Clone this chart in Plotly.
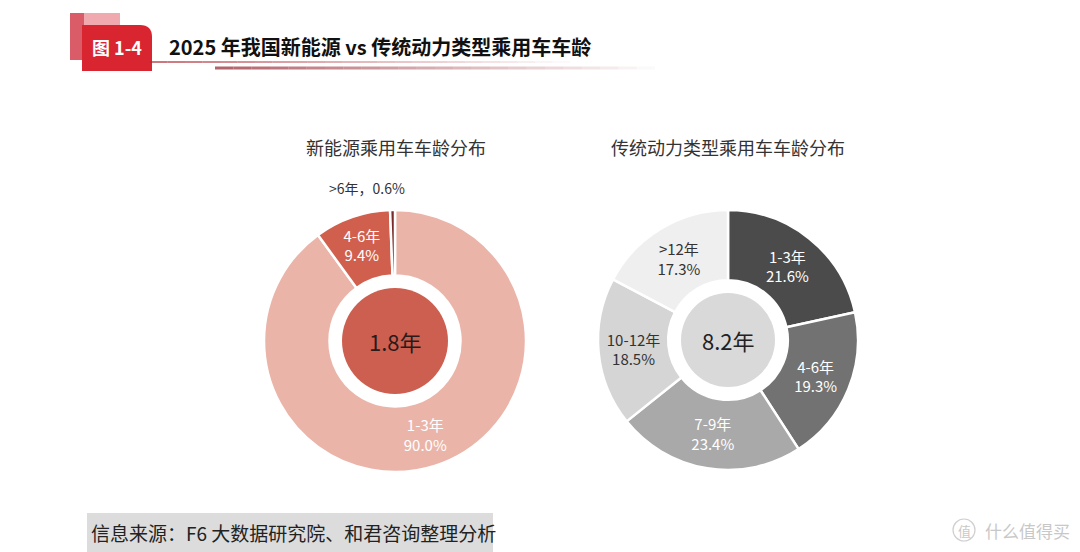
import plotly.graph_objects as go

W, H = 1080, 552
FONT = "Noto Sans CJK SC"

# ---------------- data ----------------
nev_labels = ["1-3年", "4-6年", ">6年"]
nev_values = [90.0, 9.4, 0.6]
ice_labels = ["1-3年", "4-6年", "7-9年", "10-12年", ">12年"]
ice_values = [21.6, 19.3, 23.4, 18.5, 17.3]
avg_age = [1.8, 8.2]
chart_titles = ["新能源乘用车车龄分布", "传统动力类型乘用车车龄分布"]
main_title = "2025 年我国新能源 vs 传统动力类型乘用车车龄"
fig_no = "图 1-4"
source = "信息来源：F6 大数据研究院、和君咨询整理分析"

# ---------------- styles ----------------
nev_colors = ["#ebb4a9", "#d15f4e", "#7a2a2a"]
nev_text_colors = ["#ffffff", "#ffffff", "#ffffff"]
ice_colors = ["#4b4b4b", "#727272", "#a9a9a9", "#d5d5d5", "#efefef"]
ice_text_colors = ["#ffffff", "#ffffff", "#ffffff", "#333333", "#333333"]
center_colors = ["#cd5f50", "#d9d9d9"]


def fx(x):
    return x / W


def fy(y):
    return 1 - y / H


def dom(cx, cy, r):
    return dict(x=[fx(cx - r), fx(cx + r)], y=[fy(cy + r), fy(cy - r)])


L = dict(cx=395, cy=341, r=131, hole=0.5, inner=53)
R = dict(cx=728, cy=340, r=130, hole=0.46, inner=47)

tmpl = "%{label}<br>%{value:.1f}%"

fig = go.Figure()

fig.add_trace(go.Pie(
    labels=nev_labels, values=nev_values, sort=False, direction="clockwise",
    rotation=0, hole=L["hole"], domain=dom(L["cx"], L["cy"], L["r"]),
    marker=dict(colors=nev_colors, line=dict(color="white", width=2.5)),
    texttemplate=[tmpl, tmpl, ""], textposition="inside",
    insidetextorientation="horizontal",
    insidetextfont=dict(color=nev_text_colors, size=15, family=FONT),
    showlegend=False, hoverinfo="label+percent",
))
fig.add_trace(go.Pie(
    labels=ice_labels, values=ice_values, sort=False, direction="clockwise",
    rotation=0, hole=R["hole"], domain=dom(R["cx"], R["cy"], R["r"]),
    marker=dict(colors=ice_colors, line=dict(color="white", width=2.5)),
    texttemplate=tmpl, textposition="inside",
    insidetextorientation="horizontal",
    insidetextfont=dict(color=ice_text_colors, size=15, family=FONT),
    showlegend=False, hoverinfo="label+percent",
))
# center discs
for d, col, v in [(L, center_colors[0], avg_age[0]), (R, center_colors[1], avg_age[1])]:
    fig.add_trace(go.Pie(
        values=[1], labels=[f"{v}年"], domain=dom(d["cx"], d["cy"], d["inner"]),
        marker=dict(colors=[col], line=dict(width=0)), textinfo="none",
        hoverinfo="skip", showlegend=False, sort=False,
    ))

ann = []
shapes = []

# center texts
ann.append(dict(x=fx(L["cx"]), y=fy(L["cy"]), text=f"{avg_age[0]}年",
                font=dict(size=22, color="#2a1a1a", family=FONT)))
ann.append(dict(x=fx(R["cx"]), y=fy(R["cy"]), text=f"{avg_age[1]}年",
                font=dict(size=22, color="#222222", family=FONT)))
# small slice label outside
ann.append(dict(x=fx(367), y=fy(188), text=f"{nev_labels[2]}，{nev_values[2]:.1f}%",
                font=dict(size=14, color="#333333", family=FONT)))
# subtitles
ann.append(dict(x=fx(396), y=fy(147), text=chart_titles[0],
                font=dict(size=18, color="#333333", family=FONT)))
ann.append(dict(x=fx(728), y=fy(147), text=chart_titles[1],
                font=dict(size=18, color="#333333", family=FONT)))

# header tab
shapes.append(dict(type="rect", xref="paper", yref="paper",
                   x0=fx(70), x1=fx(120), y0=fy(60), y1=fy(13),
                   fillcolor="rgba(214,40,55,0.40)", line=dict(width=0), layer="below"))
shapes.append(dict(type="rect", xref="paper", yref="paper",
                   x0=fx(70), x1=fx(84), y0=fy(60), y1=fy(13),
                   fillcolor="rgba(200,30,45,0.55)", line=dict(width=0), layer="below"))
path = (f"M {fx(82)},{fy(25)} L {fx(140)},{fy(25)} Q {fx(152)},{fy(25)} {fx(152)},{fy(37)} "
        f"L {fx(152)},{fy(71)} L {fx(82)},{fy(71)} Z")
shapes.append(dict(type="path", xref="paper", yref="paper", path=path,
                   fillcolor="#d9252f", line=dict(width=0)))
ann.append(dict(x=fx(117), y=fy(47), text=f"<b>{fig_no}</b>",
                font=dict(size=18, color="#ffffff", family=FONT)))
ann.append(dict(x=fx(167), y=fy(46), text=f"<b>{main_title}</b>", xanchor="left",
                font=dict(size=20, color="#111111", family=FONT)))

# fading lines under title
n = 24
for i in range(n):
    a = 1 - i / n
    x0 = 150 + (570 - 150) * i / n
    x1 = 150 + (570 - 150) * (i + 1) / n
    shapes.append(dict(type="line", xref="paper", yref="paper", x0=fx(x0), x1=fx(x1),
                       y0=fy(62), y1=fy(62),
                       line=dict(color=f"rgba(175,40,50,{0.85 * a:.3f})", width=1.5)))
    x0 = 215 + (655 - 215) * i / n
    x1 = 215 + (655 - 215) * (i + 1) / n
    shapes.append(dict(type="line", xref="paper", yref="paper", x0=fx(x0), x1=fx(x1),
                       y0=fy(68), y1=fy(68),
                       line=dict(color=f"rgba(160,60,70,{0.8 * a:.3f})", width=3)))

# footer
shapes.append(dict(type="rect", xref="paper", yref="paper",
                   x0=fx(87), x1=fx(493), y0=fy(552), y1=fy(513),
                   fillcolor="#dcdcdc", line=dict(width=0), layer="below"))
ann.append(dict(x=fx(89), y=fy(532), text=source, xanchor="left",
                font=dict(size=19, color="#222222", family=FONT)))

# watermark
shapes.append(dict(type="circle", xref="paper", yref="paper",
                   x0=fx(953), x1=fx(975), y0=fy(541), y1=fy(519),
                   line=dict(color="#cfcfcf", width=1.2)))
ann.append(dict(x=fx(964), y=fy(530), text="值",
                font=dict(size=13, color="#c8c8c8", family=FONT)))
ann.append(dict(x=fx(983), y=fy(530), text="什么值得买", xanchor="left",
                font=dict(size=17, color="#c8c8c8", family=FONT)))

for a in ann:
    a.setdefault("xref", "paper")
    a.setdefault("yref", "paper")
    a.setdefault("showarrow", False)
    a.setdefault("xanchor", "center")
    a.setdefault("yanchor", "middle")

fig.update_layout(
    width=W, height=H, margin=dict(l=0, r=0, t=0, b=0),
    paper_bgcolor="white", plot_bgcolor="white",
    annotations=ann, shapes=shapes,
    uniformtext=dict(minsize=15, mode="show"),
    font=dict(family=FONT),
)

fig.write_html("out.html")
